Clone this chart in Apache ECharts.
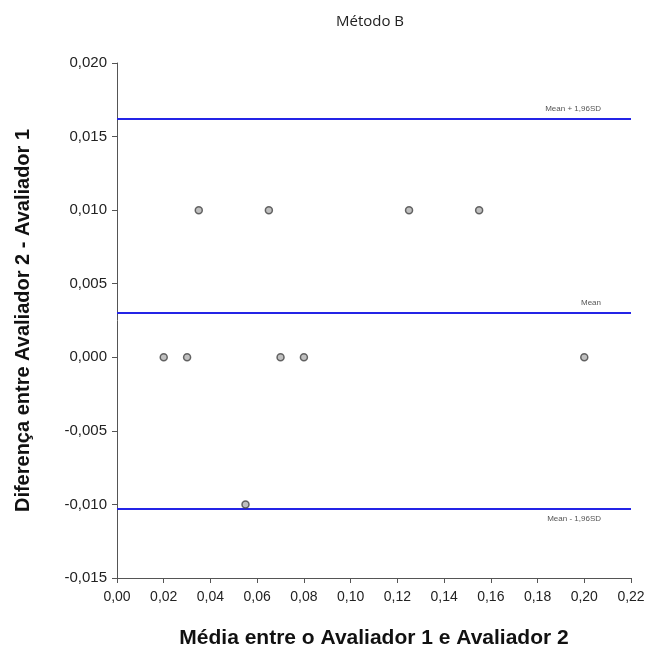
<!DOCTYPE html>
<html><head><meta charset="utf-8">
<script src="https://cdn.jsdelivr.net/npm/echarts@6/dist/echarts.min.js"></script>
<style>html,body{margin:0;padding:0;background:#fff}#c{width:649px;height:655px}</style>
</head><body><div id="c"></div>
<script>
var xValues = [0.02, 0.03, 0.035, 0.055, 0.065, 0.07, 0.08, 0.125, 0.155, 0.20];
var yValues = [0.0, 0.0, 0.010, -0.010, 0.010, 0.0, 0.0, 0.010, 0.010, 0.0];
var limitValues = [0.0162, 0.0030, -0.0103];
var limitNames = ['Mean + 1,96SD', 'Mean', 'Mean - 1,96SD'];
var limitPos = ['insideEndTop', 'insideEndTop', 'insideEndBottom'];

var pts = xValues.map(function(x, i){ return [x, yValues[i]]; });
var fmtX = function(v){ return v.toFixed(2).replace('.', ','); };
var fmtY = function(v){ return v.toFixed(3).replace('.', ','); };

var chart = echarts.init(document.getElementById('c'));
chart.setOption({
  animation: false,
  title: {
    text: 'Método B', left: 365, top: 9, textAlign: 'center',
    textStyle: {fontFamily: 'Open Sans', fontSize: 15, fontWeight: 'normal', color: '#222'}
  },
  grid: {left: 117, right: 18, top: 63, bottom: 77},
  xAxis: {
    type: 'value', min: 0, max: 0.22, interval: 0.02,
    name: 'Média entre o Avaliador 1 e Avaliador 2', nameLocation: 'middle', nameGap: 50,
    nameTextStyle: {fontFamily: 'Liberation Sans', fontSize: 21, fontWeight: 'bold', color: '#111'},
    axisLine: {onZero: false, lineStyle: {color: '#555', width: 1}},
    axisTick: {show: true, length: 5, lineStyle: {color: '#555'}},
    axisLabel: {formatter: fmtX, fontFamily: 'Liberation Sans', fontSize: 14, color: '#222', margin: 12},
    splitLine: {show: false}
  },
  yAxis: {
    type: 'value', min: -0.015, max: 0.020, interval: 0.005,
    name: 'Diferença entre Avaliador 2 - Avaliador 1', nameLocation: 'middle', nameGap: 84,
    nameTextStyle: {fontFamily: 'Liberation Sans', fontSize: 20, fontWeight: 'bold', color: '#111'},
    axisLine: {show: true, onZero: false, lineStyle: {color: '#555', width: 1}},
    axisTick: {show: true, length: 5, lineStyle: {color: '#555'}},
    axisLabel: {formatter: fmtY, fontFamily: 'Liberation Sans', fontSize: 15, color: '#222', margin: 10},
    splitLine: {show: false}
  },
  series: [{
    type: 'scatter', data: pts, symbol: 'circle', symbolSize: 7,
    itemStyle: {color: '#b0b0b0', borderColor: '#444', borderWidth: 1.5},
    z: 5,
    markLine: {
      silent: true, symbol: ['none', 'none'], precision: 5,
      lineStyle: {color: '#2424e6', width: 2, type: 'solid'},
      data: limitValues.map(function(v, i){
        return {yAxis: v, label: {show: true, position: limitPos[i], formatter: limitNames[i],
          fontFamily: 'Liberation Sans', fontSize: 8, color: '#555', distance: [30, 6]}};
      })
    }
  }]
});
</script></body></html>
